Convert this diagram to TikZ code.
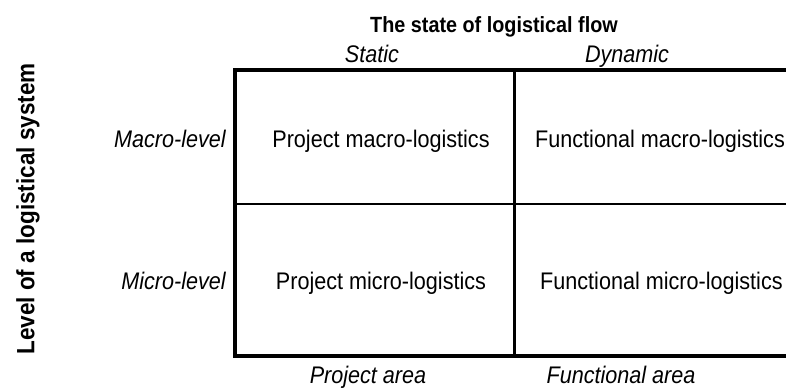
\documentclass[tikz,border=0pt]{standalone}
\usepackage{fontspec}
\setmainfont[FakeStretch=0.9]{Liberation Sans}
\usetikzlibrary{positioning}

\tikzset{
  celltext/.style={font=\fontsize{24}{28}\selectfont,inner sep=0pt},
  axistext/.style={font=\fontsize{24}{28}\selectfont\itshape,inner sep=0pt},
  headtext/.style={font=\fontsize{22}{26}\selectfont\bfseries,inner sep=0pt},
}

\begin{document}
\begin{tikzpicture}[x=1pt,y=-1pt]
  \useasboundingbox (0,0) rectangle (786,389);
  % frame of the table
  \draw[line width=4.5pt] (786,70) -- (235,70) -- (235,356) -- (786,356);
  \draw[line width=2.5pt] (514.5,70) -- (514.5,356);
  \draw[line width=1.2pt] (235,204) -- (786,204);
  % headings
  \node[headtext,anchor=base] (flow) at (494,32) {The state of logistical flow};
  \node[headtext,rotate=90,font=\fontsize{25}{28}\selectfont\bfseries] (level) at (28,209) {Level of a logistical system};
  \foreach \lab/\x/\nm in {Static/372/static,Dynamic/627/dynamic} {
    \node[axistext,anchor=base] (\nm) at (\x,62) {\lab};
  }
  \foreach \lab/\x/\nm in {Project area/368/parea,Functional area/621/farea} {
    \node[axistext,anchor=base] (\nm) at (\x,383) {\lab};
  }
  \node[axistext,anchor=base east] (macro) at (226,147) {Macro-level};
  \node[axistext,anchor=base east] (micro) at (226,289) {Micro-level};
  % cells
  \node[celltext,anchor=base] (pmacro) at (381,147) {Project macro-logistics};
  \node[celltext,anchor=base] (pmicro) at (381,289) {Project micro-logistics};
  \node[celltext,anchor=base west] (fmacro) at (535,147) {Functional macro-logistics};
  \node[celltext,anchor=base west] (fmicro) at (540,289) {Functional micro-logistics};
\end{tikzpicture}
\end{document}
